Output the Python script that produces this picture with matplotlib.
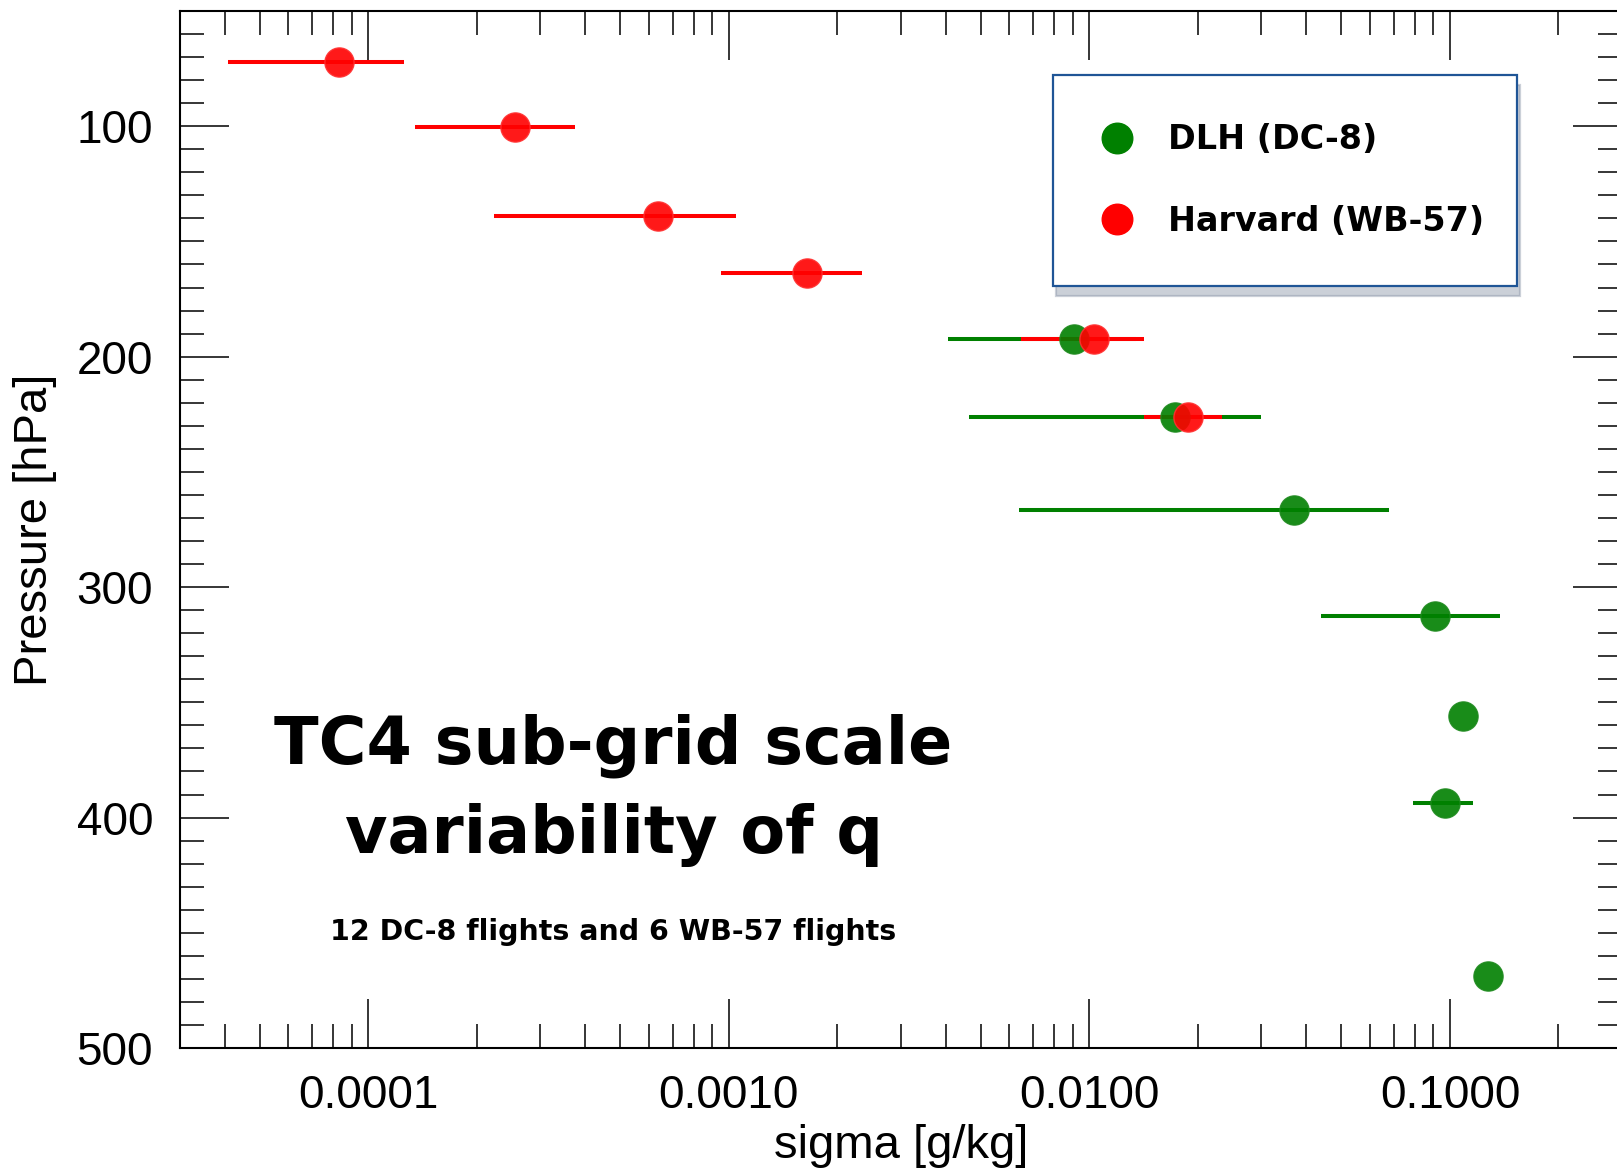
import numpy as np
import matplotlib.pyplot as plt
from matplotlib.lines import Line2D
from matplotlib.ticker import FixedLocator, FormatStrFormatter, LogLocator, NullFormatter

# --- data: sigma [g/kg] vs pressure [hPa] ---
dlh_p = [192.4, 226.2, 266.4, 312.7, 356.1, 393.8, 468.9]
dlh_sigma = [0.00906, 0.01726, 0.0370, 0.0908, 0.1084, 0.0972, 0.1276]
dlh_lo = [0.00406, 0.00464, 0.00638, 0.0438, 0.1084, 0.0791, 0.1276]
dlh_hi = [0.0135, 0.02986, 0.0676, 0.1377, 0.1084, 0.1159, 0.1276]

harvard_p = [72.3, 100.3, 138.9, 163.5, 192.4, 226.2]
harvard_sigma = [8.33e-5, 2.55e-4, 6.37e-4, 1.65e-3, 0.0103, 0.0188]
harvard_lo = [4.10e-5, 1.349e-4, 2.23e-4, 9.5e-4, 6.46e-3, 0.01416]
harvard_hi = [1.257e-4, 3.76e-4, 1.05e-3, 2.34e-3, 0.01416, 0.0234]

x_ticks = [1e-4, 1e-3, 1e-2, 1e-1]
y_ticks = [100, 200, 300, 400, 500]

green = '#008000'
red = '#ff0000'
fancy = 'DejaVu Sans'   # no Comic Sans here, a bold sans stands in

plt.rcParams['font.family'] = ['Liberation Sans', 'DejaVu Sans']

fig = plt.figure(figsize=(16.17, 11.75), dpi=100)
ax = fig.add_axes([179.5 / 1617, 127 / 1175, 1442.5 / 1617, 1037 / 1175])

# error bars first, markers on top
ax.hlines(dlh_p, dlh_lo, dlh_hi, color=green, lw=2.9, zorder=2)
ax.hlines(harvard_p, harvard_lo, harvard_hi, color=red, lw=2.9, zorder=2)
ax.plot(dlh_sigma, dlh_p, 'o', ms=21, color=green, mec='#1e8a1e', mew=1,
        alpha=0.9, zorder=3)
ax.plot(harvard_sigma, harvard_p, 'o', ms=21, color=red, mec='#ff3030', mew=1,
        alpha=0.9, zorder=4)

ax.set_xscale('log')
ax.set_xlim(3e-5, 0.3)
ax.set_ylim(500, 50)

ax.xaxis.set_major_locator(FixedLocator(x_ticks))
ax.xaxis.set_major_formatter(FormatStrFormatter('%.4f'))
ax.xaxis.set_minor_locator(LogLocator(base=10, subs=np.arange(2, 10)))
ax.xaxis.set_minor_formatter(NullFormatter())
ax.yaxis.set_major_locator(FixedLocator(y_ticks))
ax.yaxis.set_minor_locator(FixedLocator(np.arange(50, 501, 10)))

ax.tick_params(which='both', direction='in', top=True, right=True,
               labelsize=33, pad=19)
ax.tick_params(which='major', length=35, width=1.1)
ax.tick_params(which='minor', length=17.5, width=1.1)
for s in ax.spines.values():
    s.set_linewidth(1.5)

ax.set_xlabel('sigma [g/kg]', fontsize=34, labelpad=4)
ax.set_ylabel('Pressure [hPa]', fontsize=34, labelpad=14)

# annotation text
fig.text(613.6 / 1617, 1 - 763 / 1175, 'TC4 sub-grid scale', family=fancy,
         weight='bold', fontsize=47, ha='center', va='baseline')
fig.text(613.6 / 1617, 1 - 853 / 1175, 'variability of q', family=fancy,
         weight='bold', fontsize=47, ha='center', va='baseline')
fig.text(613.6 / 1617, 1 - 940 / 1175, '12 DC-8 flights and 6 WB-57 flights',
         family=fancy, weight='bold', fontsize=20.5, ha='center', va='baseline')

# legend
handles = [Line2D([], [], ls='none', marker='o', ms=22, color=green),
           Line2D([], [], ls='none', marker='o', ms=22, color=red)]
leg = ax.legend(handles, ['DLH (DC-8)', 'Harvard (WB-57)'],
                loc='upper left',
                bbox_to_anchor=(1053 / 1617, 1 - 75 / 1175, 464 / 1617, 0),
                bbox_transform=fig.transFigure, mode='expand',
                prop={'family': fancy, 'weight': 'bold', 'size': 24},
                frameon=True, fancybox=False, borderpad=1.45, labelspacing=1.45,
                handlelength=0.93, handletextpad=1.08, borderaxespad=0,
                shadow={'color': '#8d98aa', 'alpha': 0.45, 'ox': 2, 'oy': -7})
leg.get_frame().set_edgecolor('#1f5596')
leg.get_frame().set_linewidth(1.6)

fig.savefig('out.png', dpi=100)
